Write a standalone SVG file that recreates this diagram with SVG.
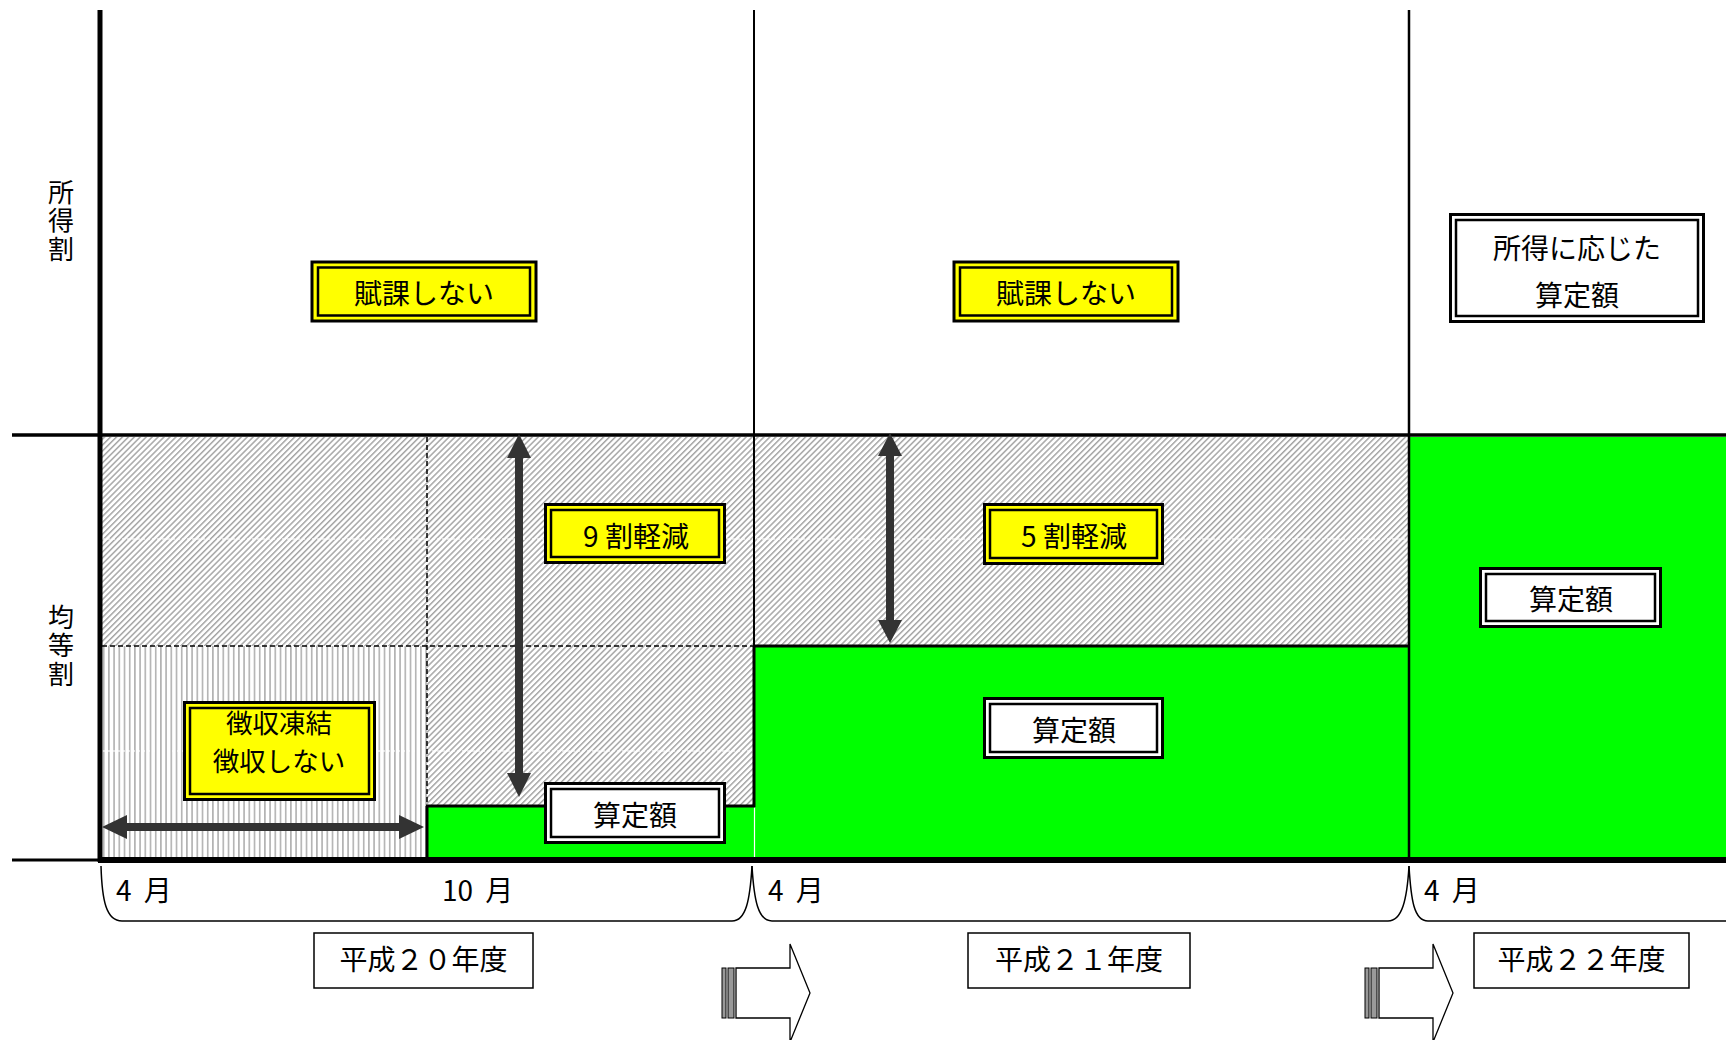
<svg xmlns="http://www.w3.org/2000/svg" width="1726" height="1040" viewBox="0 0 1726 1040">
<style>
.t{font-family:"Noto Sans CJK JP","Noto Sans",sans-serif;fill:#000;font-size:28px;text-anchor:middle}
.side{font-family:"Noto Sans CJK JP","Noto Sans",sans-serif;fill:#000;font-size:26px;writing-mode:vertical-rl;letter-spacing:2.5px}
.ln{stroke:#000;fill:none}
.yo{fill:#ff0;stroke:#000;stroke-width:3}
.yi{fill:#ff0;stroke:#000;stroke-width:2.5}
.wo{fill:#fff;stroke:#000;stroke-width:3}
.wi{fill:#fff;stroke:#000;stroke-width:2.5}
.yr{fill:#fff;stroke:#000;stroke-width:1.5}
.dash{stroke:#000;stroke-width:1.5;stroke-dasharray:5 3;fill:none}
.faint{stroke:#fff;stroke-width:1.5;stroke-dasharray:3 2;opacity:0.75;fill:none}
.dbl{fill:#333}
.barr{fill:#fff;stroke:#000;stroke-width:1.3}
.bar{fill:#999;stroke:#000;stroke-width:1}
</style>
<defs>
<pattern id="diag" patternUnits="userSpaceOnUse" width="4.2" height="4.2" patternTransform="rotate(45)">
<rect width="4.2" height="4.2" fill="#fff"/><rect width="1.5" height="4.2" fill="#a6a6a6"/>
</pattern>
<pattern id="vert" patternUnits="userSpaceOnUse" x="102" width="5.2" height="10">
<rect width="5.2" height="10" fill="#fff"/><rect x="1" width="1.4" height="10" fill="#a6a6a6"/>
</pattern>
</defs>
<rect width="1726" height="1040" fill="#fff"/>

<g id="background">
<rect x="102" y="437" width="1307" height="421" fill="url(#diag)"/>
<rect x="102" y="646" width="325" height="212" fill="url(#vert)"/>
<line class="faint" x1="102" y1="539" x2="1408" y2="539"/>
<line class="faint" x1="102" y1="751" x2="753" y2="751"/>
<rect x="427" y="806" width="327" height="52" fill="#0f0"/>
<rect x="755" y="646" width="654" height="212" fill="#0f0"/>
<rect x="1410" y="437" width="316" height="421" fill="#0f0"/>
</g>

<g id="grid">
<line class="ln" x1="12" y1="435" x2="1726" y2="435" stroke-width="3.3"/>
<line class="ln" x1="100" y1="10" x2="100" y2="862" stroke-width="5"/>
<line class="ln" x1="754" y1="10" x2="754" y2="646" stroke-width="2"/>
<line class="ln" x1="1409" y1="10" x2="1409" y2="858" stroke-width="2.5"/>
<line class="dash" x1="102" y1="646" x2="754" y2="646"/>
<line class="dash" x1="427" y1="437" x2="427" y2="806"/>
<line class="ln" x1="426" y1="806" x2="755" y2="806" stroke-width="3"/>
<line class="ln" x1="427" y1="806" x2="427" y2="858" stroke-width="3"/>
<line class="ln" x1="753" y1="646" x2="1409" y2="646" stroke-width="3"/>
<line class="ln" x1="754" y1="646" x2="754" y2="807" stroke-width="3"/>
<line x1="754.5" y1="808" x2="754.5" y2="857" stroke="#fff" stroke-width="1.2"/>
<line class="ln" x1="12" y1="860" x2="100" y2="860" stroke-width="3"/>
<line class="ln" x1="98" y1="860" x2="1726" y2="860" stroke-width="6"/>
</g>

<g id="label-shotokuwari">
<text class="side" x="61" y="179">所得割</text>
</g>
<g id="label-kintouwari">
<text class="side" x="61" y="604">均等割</text>
</g>

<g id="box-fuka-1">
<rect class="yo" x="312" y="262" width="224" height="59"/>
<rect class="yi" x="318" y="267.5" width="212" height="48"/>
<text class="t" x="424" y="304">賦課しない</text>
</g>
<g id="box-fuka-2">
<rect class="yo" x="954" y="262" width="224" height="59"/>
<rect class="yi" x="960" y="267.5" width="212" height="48"/>
<text class="t" x="1066" y="304">賦課しない</text>
</g>
<g id="box-shotoku-santei">
<rect class="wo" x="1450.5" y="214.5" width="253" height="107"/>
<rect class="wi" x="1456" y="220" width="242" height="96"/>
<text class="t"><tspan x="1577" y="259">所得に応じた</tspan><tspan x="1577" y="306">算定額</tspan></text>
</g>
<g id="box-9wari">
<rect class="yo" x="545.5" y="504.5" width="179" height="58"/>
<rect class="yi" x="551" y="510" width="168" height="47"/>
<text class="t" x="636" y="547">9 割軽減</text>
</g>
<g id="box-5wari">
<rect class="yo" x="984.5" y="504.5" width="178" height="59"/>
<rect class="yi" x="990" y="510" width="167" height="48"/>
<text class="t" x="1074" y="547">5 割軽減</text>
</g>
<g id="box-choshu">
<rect class="yo" x="184.5" y="702.5" width="190" height="97"/>
<rect class="yi" x="190" y="708" width="179" height="86"/>
<text class="t" style="font-size:26.5px"><tspan x="279" y="733">徴収凍結</tspan><tspan x="279" y="771">徴収しない</tspan></text>
</g>
<g id="box-santei-20">
<rect class="wo" x="545.5" y="783.5" width="179" height="59"/>
<rect class="wi" x="551" y="789" width="168" height="48"/>
<text class="t" x="635" y="825.5">算定額</text>
</g>
<g id="box-santei-21">
<rect class="wo" x="984.5" y="698.5" width="178" height="59"/>
<rect class="wi" x="990" y="704" width="167" height="48"/>
<text class="t" x="1074" y="740.5">算定額</text>
</g>
<g id="box-santei-22">
<rect class="wo" x="1480.5" y="568.5" width="180" height="58"/>
<rect class="wi" x="1486" y="574" width="169" height="47"/>
<text class="t" x="1571" y="610">算定額</text>
</g>

<g id="connectors">
<path class="dbl" d="M102,827 L127,815 L127,823 L399,823 L399,815 L424,827 L399,839 L399,831 L127,831 L127,839 Z"/>
<path class="dbl" d="M519,434 L531,458 L523,458 L523,773 L531,773 L519,797 L507,773 L515,773 L515,458 L507,458 Z"/>
<path class="dbl" d="M890,433 L902,456 L894,456 L894,620 L902,620 L890,643 L878,620 L886,620 L886,456 L878,456 Z"/>
</g>

<g id="timeline">
<path class="ln" stroke-width="1.5" d="M101,866 C102,900 106,921 122,921 L732,921 C746,921 750,900 752,866"/>
<path class="ln" stroke-width="1.5" d="M752,866 C754,900 758,921 772,921 L1388,921 C1402,921 1407,900 1409,866"/>
<path class="ln" stroke-width="1.5" d="M1409,866 C1411,900 1414,921 1428,921 L1726,921"/>
<text class="t" x="116" y="901" style="text-anchor:start">4 <tspan dx="6">月</tspan></text>
<text class="t" x="442" y="901" style="text-anchor:start">10 <tspan dx="6">月</tspan></text>
<text class="t" x="768" y="901" style="text-anchor:start">4 <tspan dx="6">月</tspan></text>
<text class="t" x="1424" y="901" style="text-anchor:start">4 <tspan dx="6">月</tspan></text>
</g>

<g id="year-20">
<rect class="yr" x="314" y="933" width="219" height="55"/>
<text class="t" x="423.5" y="970">平成２０年度</text>
</g>
<g id="year-21">
<rect class="yr" x="968" y="933" width="222" height="55"/>
<text class="t" x="1079" y="970">平成２１年度</text>
</g>
<g id="year-22">
<rect class="yr" x="1474" y="933" width="215" height="55"/>
<text class="t" x="1581.5" y="970">平成２２年度</text>
</g>

<g id="arrow-1">
<rect class="bar" x="722" y="968" width="4" height="50"/>
<rect class="bar" x="728" y="968" width="6" height="50"/>
<path class="barr" d="M736,968 L790,968 L790,944 L810,993 L790,1042 L790,1018 L736,1018 Z"/>
</g>
<g id="arrow-2">
<rect class="bar" x="1365" y="968" width="4" height="50"/>
<rect class="bar" x="1371" y="968" width="6" height="50"/>
<path class="barr" d="M1379,968 L1433,968 L1433,944 L1453,993 L1433,1042 L1433,1018 L1379,1018 Z"/>
</g>
</svg>
